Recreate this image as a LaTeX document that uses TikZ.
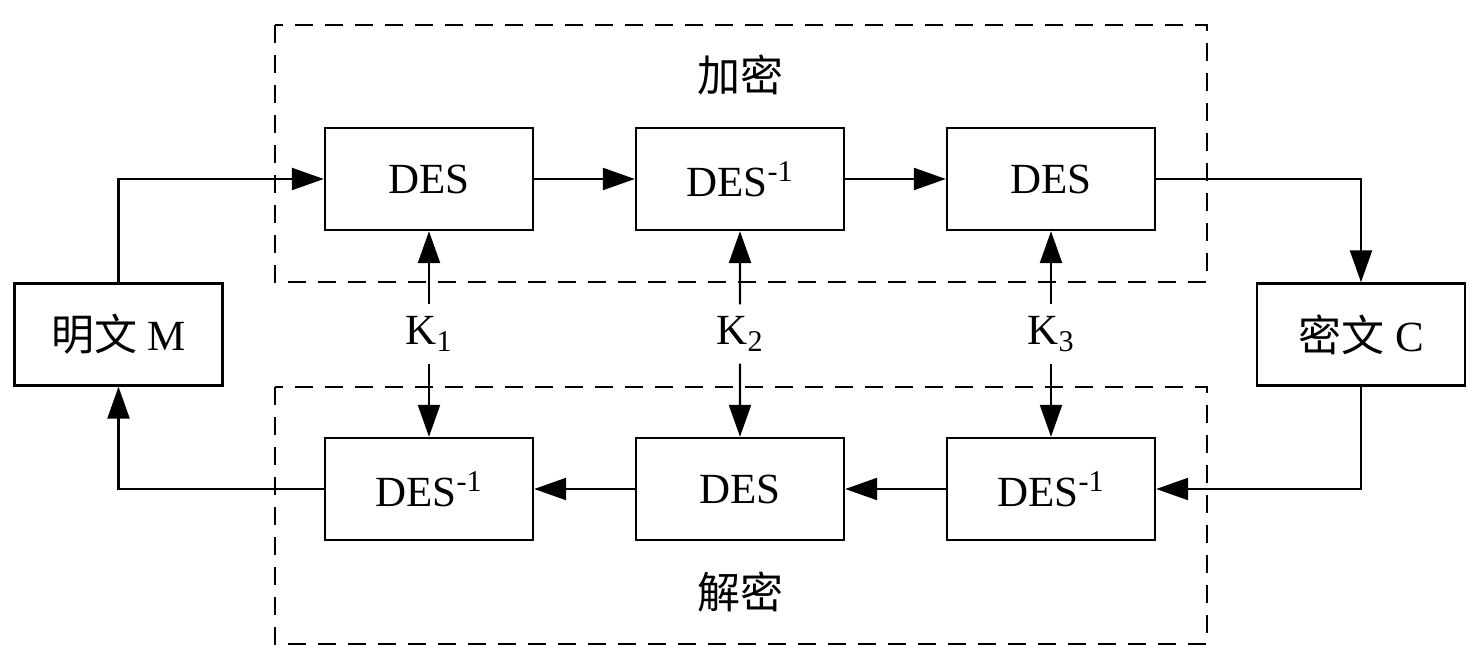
\documentclass[tikz,border=0pt]{standalone}
\usepackage{fontspec}
\setmainfont{Liberation Serif}
\newfontfamily\cjk{Noto Sans CJK SC}
\usepackage{tikz}
\usetikzlibrary{arrows.meta,calc,positioning}
\tikzstyle{desbox} = [draw, line width=1.2pt, rectangle,
    minimum width=104pt, minimum height=51pt, inner sep=0pt]
\tikzstyle{groupbox} = [draw, line width=1.2pt, dash pattern=on 9pt off 6pt]
\tikzstyle{keylabel} = [inner sep=6pt]
\tikzstyle{flow} = [line width=1.2pt, -{Triangle[length=16pt,width=11pt]}]

\begin{document}
\begin{tikzpicture}[x=0.5pt,y=-0.5pt,font=\fontsize{21.5pt}{25pt}\selectfont]
\useasboundingbox (0,0) rectangle (1480,663);
% encryption and decryption groups
\draw[groupbox] (275,25) rectangle (1207,282);
\draw[groupbox] (275,387) rectangle (1207,644);
\node (enc) at (740,75) {\cjk 加密};
\node (dec) at (740,592) {\cjk 解密};

\node[desbox] (plain) at (118.5,334.5) {{\cjk 明文} M};
\node[desbox] (cipher) at (1361,334.5) {{\cjk 密文} C};

\node[desbox] (e1) at (429,179) {DES};
\node[desbox, right=50.3pt of e1] (e2) {DES\textsuperscript{-1}};
\node[desbox, right=50.3pt of e2] (e3) {DES};

\node[desbox, below=102.8pt of e1] (d1) {DES\textsuperscript{-1}};
\node[desbox, below=102.8pt of e2] (d2) {DES};
\node[desbox, below=102.8pt of e3] (d3) {DES\textsuperscript{-1}};

% keys
\node[keylabel] (k1) at ($(e1.south)!0.5!(d1.north)$) {K\textsubscript{1}};
\node[keylabel] (k2) at ($(e2.south)!0.5!(d2.north)$) {K\textsubscript{2}};
\node[keylabel] (k3) at ($(e3.south)!0.5!(d3.north)$) {K\textsubscript{3}};
\draw[flow] (k1.north) -- (e1.south);
\draw[flow] (k1.south) -- (d1.north);
\draw[flow] (k2.north) -- (e2.south);
\draw[flow] (k2.south) -- (d2.north);
\draw[flow] (k3.north) -- (e3.south);
\draw[flow] (k3.south) -- (d3.north);

% data path
\draw[flow] (plain.north) |- (e1.west);
\draw[flow] (e1) -- (e2);
\draw[flow] (e2) -- (e3);
\draw[flow] (e3.east) -| (cipher.north);
\draw[flow] (cipher.south) |- (d3.east);
\draw[flow] (d3) -- (d2);
\draw[flow] (d2) -- (d1);
\draw[flow] (d1.west) -| (plain.south);
\end{tikzpicture}
\end{document}
